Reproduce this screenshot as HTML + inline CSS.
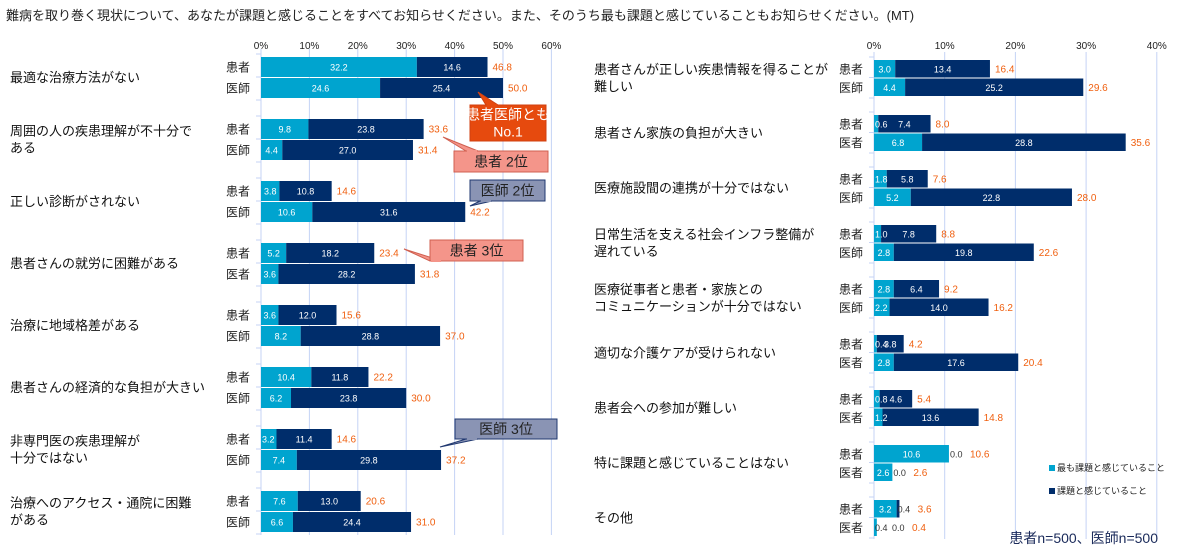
<!DOCTYPE html>
<html><head><meta charset="utf-8">
<style>
body{margin:0;background:#fff;width:1192px;height:558px;overflow:hidden;font-family:"Liberation Sans","Noto Sans CJK JP",sans-serif;}
svg{position:absolute;left:0;top:0}
</style></head>
<body>
<svg id="c" width="1192" height="558" xmlns="http://www.w3.org/2000/svg"></svg>
<script>
const leftCats=["最適な治療方法がない","周囲の人の疾患理解が不十分で|ある","正しい診断がされない","患者さんの就労に困難がある","治療に地域格差がある","患者さんの経済的な負担が大きい","非専門医の疾患理解が|十分ではない","治療へのアクセス・通院に困難|がある"];
const leftMost=[[32.2,24.6],[9.8,4.4],[3.8,10.6],[5.2,3.6],[3.6,8.2],[10.4,6.2],[3.2,7.4],[7.6,6.6]];
const leftOther=[[14.6,25.4],[23.8,27.0],[10.8,31.6],[18.2,28.2],[12.0,28.8],[11.8,23.8],[11.4,29.8],[13.0,24.4]];
const leftTotal=[[46.8,50.0],[33.6,31.4],[14.6,42.2],[23.4,31.8],[15.6,37.0],[22.2,30.0],[14.6,37.2],[20.6,31.0]];
const leftRowLabels=[["患者","医師"],["患者","医師"],["患者","医師"],["患者","医者"],["患者","医師"],["患者","医師"],["患者","医師"],["患者","医師"]];
const rightCats=["患者さんが正しい疾患情報を得ることが|難しい","患者さん家族の負担が大きい","医療施設間の連携が十分ではない","日常生活を支える社会インフラ整備が|遅れている","医療従事者と患者・家族との|コミュニケーションが十分ではない","適切な介護ケアが受けられない","患者会への参加が難しい","特に課題と感じていることはない","その他"];
const rightMost=[[3.0,4.4],[0.6,6.8],[1.8,5.2],[1.0,2.8],[2.8,2.2],[0.4,2.8],[0.8,1.2],[10.6,2.6],[3.2,0.4]];
const rightOther=[[13.4,25.2],[7.4,28.8],[5.8,22.8],[7.8,19.8],[6.4,14.0],[3.8,17.6],[4.6,13.6],[0.0,0.0],[0.4,0.0]];
const rightTotal=[[16.4,29.6],[8.0,35.6],[7.6,28.0],[8.8,22.6],[9.2,16.2],[4.2,20.4],[5.4,14.8],[10.6,2.6],[3.6,0.4]];
const rightRowLabels=[["患者","医師"],["患者","医者"],["患者","医師"],["患者","医師"],["患者","医師"],["患者","医者"],["患者","医者"],["患者","医者"],["患者","医者"]];
const leftTicks=[0,10,20,30,40,50,60];
const rightTicks=[0,10,20,30,40];

const svg=document.getElementById('c');
const NS="http://www.w3.org/2000/svg";
function mk(tag,attrs,parent){const e=document.createElementNS(NS,tag);for(const k in attrs)e.setAttribute(k,attrs[k]);(parent||svg).appendChild(e);return e;}
function txt(x,y,s,size,fill,anchor,parent){const t=mk('text',{x:x,y:y,'font-size':size,fill:fill,'text-anchor':anchor||'start'},parent);t.textContent=s;return t;}

const title=txt(6,20,"難病を取り巻く現状について、あなたが課題と感じることをすべてお知らせください。また、そのうち最も課題と感じていることもお知らせください。(MT)",13,"#222");



function panel(o){
  const g=mk('g',{});
  
  
  const X=v=>o.x0+v*o.scale;
  const n=o.cats.length;
  const top=o.y0, bot=o.y0+o.pitch*(n-1)+o.bh*2+4;
  o.ticks.forEach(t=>{
    const l=mk('line',{x1:X(t),x2:X(t),y1:top-8,y2:bot,stroke:'#c5d3f5','stroke-width':1},g);
    
    
    const tl=txt(X(t),49,t+"%",10,'#222','middle',g);
    
    
  });
  mk('line',{x1:o.x0,x2:o.x0,y1:top-8,y2:bot,stroke:'#c5d3f5'},g);
  for(let i=0;i<n;i++){
    const gy=o.y0+o.pitch*i;
    mk('line',{x1:o.x0-5,x2:o.x0,y1:gy-3,y2:gy-3,stroke:'#c5d3f5'},g);
    mk('line',{x1:o.x0-5,x2:o.x0,y1:gy+o.bh,y2:gy+o.bh,stroke:'#c5d3f5'},g);
    mk('line',{x1:o.x0-5,x2:o.x0,y1:gy+2*o.bh+3,y2:gy+2*o.bh+3,stroke:'#c5d3f5'},g);
    const lines=o.cats[i].split('|');
    const cy=gy+o.bh;
    lines.forEach((s,k)=>{
      const t=txt(o.catX,cy+5+(k-(lines.length-1)/2)*17,s,13,'#111','start',g);
      
      
    });
    for(let j=0;j<2;j++){
      const y=gy+j*(o.bh+1);
      const rl=txt(o.x0-11,y+o.bh/2+4.5,o.rowLabels[i][j],12,'#222','end',g);
      
      
      const a=o.most[i][j], b=o.other[i][j], tot=o.total[i][j];
      const r1=mk('rect',{x:X(0),y:y,width:a*o.scale,height:o.bh,fill:'#00a4cf'},g);
      
      
      const r2=mk('rect',{x:X(a),y:y,width:b*o.scale,height:o.bh,fill:'#002d6b'},g);
      
      
      let cursor=X(0);
      const ty=y+o.bh/2+3.5;
      const barEnd=X(a+b);
      [[a,0],[b,a]].forEach(([v,st])=>{
        const w=v*o.scale;
        let t;
        if(w>=16){t=txt(X(st)+w/2,ty,v.toFixed(1),9,'#fff','middle',g);cursor=X(st)+w;}
        else{const px=Math.max(cursor,X(st))+1;t=txt(px,ty,v.toFixed(1),9,(px+8<barEnd)?'#fff':'#333','start',g);cursor=px+16;}
        
        
      });
      const tx=Math.max(X(tot)+5,cursor+4);
      const tt=txt(tx,ty,tot.toFixed(1),10,'#f06010','start',g);
      
      
    }
  }
}
panel({name:'left-panel',cats:leftCats,most:leftMost,other:leftOther,total:leftTotal,rowLabels:leftRowLabels,ticks:leftTicks,x0:261,scale:4.84,y0:57,pitch:62,bh:20,catX:10});
panel({name:'right-panel',cats:rightCats,most:rightMost,other:rightOther,total:rightTotal,rowLabels:rightRowLabels,ticks:rightTicks,x0:874,scale:7.07,y0:60,pitch:55,bh:17.5,catX:594});

function callout(name,x,y,w,h,px,py,bx,fill,stroke,color,lines){
  const g=mk('g',{});
  
  
  mk('polygon',{points:`${bx},${y+(py<y?0:h)} ${bx+12},${y+(py<y?0:h)} ${px},${py}`,fill:fill,stroke:stroke},g);
  mk('rect',{x:x,y:y,width:w,height:h,fill:fill,stroke:stroke},g);
  mk('line',{x1:bx+1,x2:bx+11,y1:y+(py<y?0:h),y2:y+(py<y?0:h),stroke:fill,'stroke-width':2},g);
  lines.forEach((s,k)=>txt(x+w/2,y+h/2+5+(k-(lines.length-1)/2)*17,s,14,color,'middle',g));
}
callout('callout-no1',470,105,76,36,478,92,486,'#e64a0e','#d04010','#fff',["患者医師とも","No.1"]);
callout('callout-patient-2nd',454,151,94,21,443,137,466,'#f4958a','#d06050','#222',["患者  2位"]);
callout('callout-doctor-2nd',470,180,75,21,470,206,480,'#8a94b4','#203870','#222',["医師  2位"]);
callout('callout-patient-3rd',430,240,93,21,404,249,430,'#f4958a','#d06050','#222',["患者  3位"]);
callout('callout-doctor-3rd',455,419,102,20,440,447,466,'#8a94b4','#203870','#222',["医師  3位"]);

const lg=mk('g',{});


mk('rect',{x:1049,y:465,width:6,height:6,fill:'#00a4cf'},lg);
txt(1057,471,"最も課題と感じていること",9,'#222','start',lg);
mk('rect',{x:1049,y:488,width:6,height:6,fill:'#002d6b'},lg);
txt(1057,494,"課題と感じていること",9,'#222','start',lg);
const nt=txt(1158,543,"患者n=500、医師n=500",14,'#1a2a5a','end');


</script>
</body></html>
